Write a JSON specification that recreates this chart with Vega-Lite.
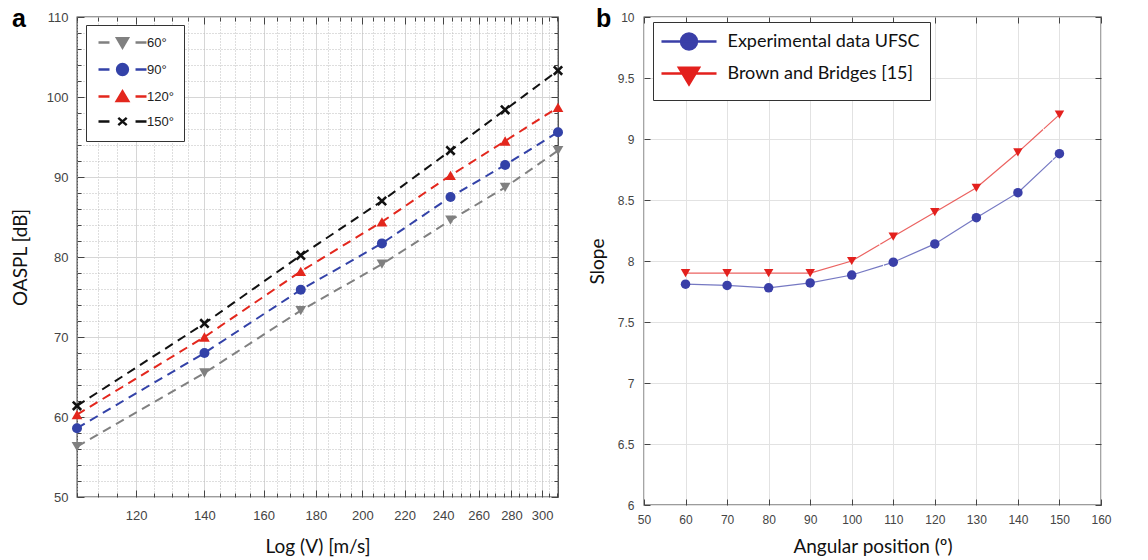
{
  "$schema": "https://vega.github.io/schema/vega-lite/v6.json",
  "background": "white",
  "padding": {"left": 10, "top": 6, "right": 10, "bottom": 5},
  "spacing": 18,
  "resolve": {"scale": {"color": "independent"}, "legend": {"color": "independent"}},
  "datasets": {
    "oaspl": [
      {"v": 105, "spl": 56.3, "angle": "60°"}, {"v": 140, "spl": 65.5, "angle": "60°"}, {"v": 174, "spl": 73.3, "angle": "60°"}, {"v": 209, "spl": 79.1, "angle": "60°"}, {"v": 244, "spl": 84.6, "angle": "60°"}, {"v": 276, "spl": 88.7, "angle": "60°"}, {"v": 311, "spl": 93.3, "angle": "60°"},
      {"v": 105, "spl": 58.6, "angle": "90°"}, {"v": 140, "spl": 68.0, "angle": "90°"}, {"v": 174, "spl": 75.9, "angle": "90°"}, {"v": 209, "spl": 81.7, "angle": "90°"}, {"v": 244, "spl": 87.5, "angle": "90°"}, {"v": 276, "spl": 91.5, "angle": "90°"}, {"v": 311, "spl": 95.6, "angle": "90°"},
      {"v": 105, "spl": 60.3, "angle": "120°"}, {"v": 140, "spl": 70.0, "angle": "120°"}, {"v": 174, "spl": 78.2, "angle": "120°"}, {"v": 209, "spl": 84.4, "angle": "120°"}, {"v": 244, "spl": 90.2, "angle": "120°"}, {"v": 276, "spl": 94.5, "angle": "120°"}, {"v": 311, "spl": 98.7, "angle": "120°"},
      {"v": 105, "spl": 61.4, "angle": "150°"}, {"v": 140, "spl": 71.7, "angle": "150°"}, {"v": 174, "spl": 80.2, "angle": "150°"}, {"v": 209, "spl": 87.0, "angle": "150°"}, {"v": 244, "spl": 93.3, "angle": "150°"}, {"v": 276, "spl": 98.4, "angle": "150°"}, {"v": 311, "spl": 103.3, "angle": "150°"}
    ],
    "slope": [
      {"pos": 60, "slope": 7.81, "series": "Experimental data UFSC"}, {"pos": 70, "slope": 7.80, "series": "Experimental data UFSC"}, {"pos": 80, "slope": 7.78, "series": "Experimental data UFSC"}, {"pos": 90, "slope": 7.82, "series": "Experimental data UFSC"}, {"pos": 100, "slope": 7.885, "series": "Experimental data UFSC"}, {"pos": 110, "slope": 7.99, "series": "Experimental data UFSC"}, {"pos": 120, "slope": 8.14, "series": "Experimental data UFSC"}, {"pos": 130, "slope": 8.355, "series": "Experimental data UFSC"}, {"pos": 140, "slope": 8.56, "series": "Experimental data UFSC"}, {"pos": 150, "slope": 8.88, "series": "Experimental data UFSC"},
      {"pos": 60, "slope": 7.9, "series": "Brown and Bridges [15]"}, {"pos": 70, "slope": 7.9, "series": "Brown and Bridges [15]"}, {"pos": 80, "slope": 7.9, "series": "Brown and Bridges [15]"}, {"pos": 90, "slope": 7.9, "series": "Brown and Bridges [15]"}, {"pos": 100, "slope": 8.0, "series": "Brown and Bridges [15]"}, {"pos": 110, "slope": 8.2, "series": "Brown and Bridges [15]"}, {"pos": 120, "slope": 8.4, "series": "Brown and Bridges [15]"}, {"pos": 130, "slope": 8.6, "series": "Brown and Bridges [15]"}, {"pos": 140, "slope": 8.89, "series": "Brown and Bridges [15]"}, {"pos": 150, "slope": 9.2, "series": "Brown and Bridges [15]"}
    ]
  },
  "hconcat": [
    {
      "width": 481,
      "height": 480,
      "title": {"text": "a", "anchor": "start", "frame": "group", "dx": -65, "offset": -41, "baseline": "alphabetic", "fontSize": 25, "font": "Liberation Sans", "fontWeight": "bold", "color": "#000000"},
      "data": {"name": "oaspl"},
      "layer": [
        {
          "mark": {"type": "line", "strokeDash": [9, 6], "strokeWidth": 2},
          "encoding": {
            "x": {
              "field": "v", "type": "quantitative",
              "scale": {"type": "log", "domain": [105, 311], "nice": false, "zero": false},
              "axis": {
                "orient": "bottom",
                "values": [105, 110, 115, 120, 125, 130, 135, 140, 145, 150, 155, 160, 165, 170, 175, 180, 185, 190, 195, 200, 205, 210, 215, 220, 225, 230, 235, 240, 245, 250, 255, 260, 265, 270, 275, 280, 285, 290, 295, 300, 305, 310],
                "labelExpr": "indexof([120,140,160,180,200,220,240,260,280,300], datum.value) >= 0 ? '' + datum.value : ''",
                "labelOverlap": false,
                "labelFlush": false,
                "labelPadding": 19,
                "labelFontSize": 13,
                "tickSize": {"condition": {"test": "indexof([120,140,160,180,200,220,240,260,280,300], datum.value) >= 0", "value": -7}, "value": -4},
                "grid": true,
                "gridDash": {"condition": {"test": "indexof([120,140,160,180,200,220,240,260,280,300], datum.value) >= 0", "value": []}, "value": [1, 2]},
                "gridColor": {"condition": {"test": "indexof([120,140,160,180,200,220,240,260,280,300], datum.value) >= 0", "value": "#d6d6d6"}, "value": "#bdbdbd"},
                "title": "Log (V) [m/s]",
                "titlePadding": 12
              }
            },
            "y": {
              "field": "spl", "type": "quantitative",
              "scale": {"domain": [50, 110], "nice": false, "zero": false},
              "axis": {
                "orient": "left",
                "values": [50, 52, 54, 56, 58, 60, 62, 64, 66, 68, 70, 72, 74, 76, 78, 80, 82, 84, 86, 88, 90, 92, 94, 96, 98, 100, 102, 104, 106, 108, 110],
                "labelExpr": "datum.value % 10 == 0 ? '' + datum.value : ''",
                "labelOverlap": false,
                "labelFlush": false,
                "labelPadding": 16,
                "labelFontSize": 13,
                "tickSize": {"condition": {"test": "datum.value % 10 == 0", "value": -7}, "value": -4},
                "grid": true,
                "gridDash": {"condition": {"test": "datum.value % 10 == 0", "value": []}, "value": [1, 2]},
                "gridColor": {"condition": {"test": "datum.value % 10 == 0", "value": "#d6d6d6"}, "value": "#bdbdbd"},
                "title": "OASPL [dB]",
                "titlePadding": 16
              }
            },
            "color": {
              "field": "angle", "type": "nominal",
              "scale": {"domain": ["60°", "90°", "120°", "150°"], "range": ["#808080", "#3342a8", "#e3271d", "#111111"]},
              "legend": {
                "orient": "none", "legendX": 9, "legendY": 8, "title": null,
                "padding": 10, "strokeColor": "#333333", "fillColor": "#ffffff",
                "symbolSize": 144, "symbolOffset": 19, "labelOffset": 17, "rowPadding": 6,
                "labelFont": "Liberation Sans", "labelFontSize": 13, "labelColor": "#222222",
                "encode": {
                  "symbols": {
                    "update": {
                      "shape": {"signal": "datum.value == '60°' ? 'M-4,0L-2.17,0M2.17,0L4,0M-0.9,-0.7L0.9,-0.7L0,0.85Z' : datum.value == '90°' ? 'M-4,0L-2.17,0M2.17,0L4,0M-0.9,0A0.9,0.9 0 1,0 0.9,0A0.9,0.9 0 1,0 -0.9,0Z' : datum.value == '120°' ? 'M-4,0L-2.17,0M2.17,0L4,0M-0.95,0.75L0.95,0.75L0,-0.85Z' : 'M-4,0L-2.17,0M2.17,0L4,0M-0.7,-0.6L0.7,0.6M-0.7,0.6L0.7,-0.6'"},
                      "fill": {"signal": "datum.value == '60°' ? '#808080' : datum.value == '90°' ? '#3342a8' : datum.value == '120°' ? '#e3271d' : '#111111'"},
                      "stroke": {"signal": "datum.value == '60°' ? '#808080' : datum.value == '90°' ? '#3342a8' : datum.value == '120°' ? '#e3271d' : '#111111'"},
                      "strokeWidth": {"value": 2.5},
                      "strokeDash": {"value": []},
                      "opacity": {"value": 1}
                    }
                  }
                }
              }
            }
          }
        },
        {
          "transform": [{"filter": "datum.angle == '60°'"}],
          "mark": {"type": "point", "filled": true, "shape": "triangle-down", "size": 115, "opacity": 1},
          "encoding": {
            "x": {"field": "v", "type": "quantitative", "axis": {"orient": "top", "values": [105, 110, 115, 120, 125, 130, 135, 140, 145, 150, 155, 160, 165, 170, 175, 180, 185, 190, 195, 200, 205, 210, 215, 220, 225, 230, 235, 240, 245, 250, 255, 260, 265, 270, 275, 280, 285, 290, 295, 300, 305, 310], "labels": false, "grid": false, "title": null, "minExtent": 0, "tickSize": {"condition": {"test": "indexof([120,140,160,180,200,220,240,260,280,300], datum.value) >= 0", "value": -7}, "value": -4}}},
            "y": {"field": "spl", "type": "quantitative", "axis": {"orient": "right", "values": [50, 52, 54, 56, 58, 60, 62, 64, 66, 68, 70, 72, 74, 76, 78, 80, 82, 84, 86, 88, 90, 92, 94, 96, 98, 100, 102, 104, 106, 108, 110], "labels": false, "grid": false, "title": null, "minExtent": 0, "tickSize": {"condition": {"test": "datum.value % 10 == 0", "value": -7}, "value": -4}}},
            "color": {"field": "angle", "type": "nominal"}
          }
        },
        {
          "transform": [{"filter": "datum.angle == '90°'"}],
          "mark": {"type": "point", "filled": true, "shape": "circle", "size": 100, "opacity": 1},
          "encoding": {
            "x": {"field": "v", "type": "quantitative", "axis": null},
            "y": {"field": "spl", "type": "quantitative", "axis": null},
            "color": {"field": "angle", "type": "nominal"}
          }
        },
        {
          "transform": [{"filter": "datum.angle == '120°'"}],
          "mark": {"type": "point", "filled": true, "shape": "triangle-up", "size": 115, "opacity": 1},
          "encoding": {
            "x": {"field": "v", "type": "quantitative", "axis": null},
            "y": {"field": "spl", "type": "quantitative", "axis": null},
            "color": {"field": "angle", "type": "nominal"}
          }
        },
        {
          "transform": [{"filter": "datum.angle == '150°'"}],
          "mark": {"type": "point", "filled": false, "shape": "M-1,-1L1,1M-1,1L1,-1", "size": 70, "stroke": "#111111", "strokeWidth": 2.6, "opacity": 1},
          "encoding": {
            "x": {"field": "v", "type": "quantitative", "axis": null},
            "y": {"field": "spl", "type": "quantitative", "axis": null}
          }
        }
      ],
      "resolve": {"axis": {"x": "independent", "y": "independent"}}
    },
    {
      "width": 457,
      "height": 488,
      "title": {"text": "b", "anchor": "start", "frame": "group", "dx": -48, "offset": -41, "baseline": "alphabetic", "fontSize": 25, "font": "Liberation Sans", "fontWeight": "bold", "color": "#000000"},
      "data": {"name": "slope"},
      "layer": [
        {
          "mark": {"type": "line", "strokeWidth": 1.2, "strokeDash": [200, 1], "strokeOpacity": 0.7},
          "encoding": {
            "x": {
              "field": "pos", "type": "quantitative",
              "scale": {"domain": [50, 160], "nice": false, "zero": false},
              "axis": {"orient": "bottom", "values": [50, 60, 70, 80, 90, 100, 110, 120, 130, 140, 150, 160], "labelPadding": 15, "labelFlush": false, "labelOverlap": false, "tickSize": -6, "grid": true, "gridColor": "#e2e2e2", "title": "Angular position (º)", "titlePadding": 12}
            },
            "y": {
              "field": "slope", "type": "quantitative",
              "scale": {"domain": [6, 10], "nice": false, "zero": false},
              "axis": {"orient": "left", "values": [6, 6.5, 7, 7.5, 8, 8.5, 9, 9.5, 10], "format": "~g", "labelPadding": 16, "labelFlush": false, "labelOverlap": false, "tickSize": -6, "grid": true, "gridColor": "#e2e2e2", "title": "Slope", "titlePadding": 10}
            },
            "color": {
              "field": "series", "type": "nominal",
              "scale": {"domain": ["Experimental data UFSC", "Brown and Bridges [15]"], "range": ["#3a3fa8", "#e3201d"]},
              "legend": {
                "orient": "none", "legendX": 9, "legendY": 5, "title": null,
                "padding": 10, "strokeColor": "#333333", "fillColor": "#ffffff",
                "symbolSize": 256, "symbolOffset": 16.5, "labelOffset": 29, "rowPadding": 7, "labelLimit": 400,
                "labelFont": "Lato", "labelFontSize": 18, "labelColor": "#111111",
                "encode": {
                  "symbols": {
                    "update": {
                      "shape": {"signal": "datum.value == 'Experimental data UFSC' ? 'M-3.44,0L3.44,0M-1,0A1,1 0 1,0 1,0A1,1 0 1,0 -1,0Z' : 'M-3.44,0L3.44,0M-1.25,-0.72L1.25,-0.72L0,1.35Z'"},
                      "fill": {"signal": "datum.value == 'Experimental data UFSC' ? '#3a3fa8' : '#e3201d'"},
                      "stroke": {"signal": "datum.value == 'Experimental data UFSC' ? '#3a3fa8' : '#e3201d'"},
                      "strokeWidth": {"value": 2.5},
                      "strokeDash": {"value": []},
                      "strokeOpacity": {"value": 1},
                      "opacity": {"value": 1}
                    }
                  }
                }
              }
            }
          }
        },
        {
          "transform": [{"filter": "datum.series == 'Experimental data UFSC'"}],
          "mark": {"type": "point", "filled": true, "shape": "circle", "size": 90, "opacity": 1},
          "encoding": {
            "x": {"field": "pos", "type": "quantitative", "axis": {"orient": "top", "values": [50, 60, 70, 80, 90, 100, 110, 120, 130, 140, 150, 160], "labels": false, "grid": false, "title": null, "minExtent": 0, "tickSize": -6}},
            "y": {"field": "slope", "type": "quantitative", "axis": {"orient": "right", "values": [6, 6.5, 7, 7.5, 8, 8.5, 9, 9.5, 10], "labels": false, "grid": false, "title": null, "minExtent": 0, "tickSize": -6}},
            "color": {"field": "series", "type": "nominal"}
          }
        },
        {
          "transform": [{"filter": "datum.series == 'Brown and Bridges [15]'"}],
          "mark": {"type": "point", "filled": true, "shape": "triangle-down", "size": 90, "opacity": 1},
          "encoding": {
            "x": {"field": "pos", "type": "quantitative", "axis": null},
            "y": {"field": "slope", "type": "quantitative", "axis": null},
            "color": {"field": "series", "type": "nominal"}
          }
        }
      ],
      "resolve": {"axis": {"x": "independent", "y": "independent"}}
    }
  ],
  "config": {
    "view": {"stroke": "#3a3a3a", "strokeWidth": 1.3},
    "axis": {"domain": false, "labelFont": "Liberation Sans", "labelFontSize": 12, "labelColor": "#444444", "tickColor": "#444444", "tickWidth": 1, "titleFont": "Lato", "titleFontSize": 19, "titleFontWeight": "normal", "titleColor": "#111111"}
  }
}
